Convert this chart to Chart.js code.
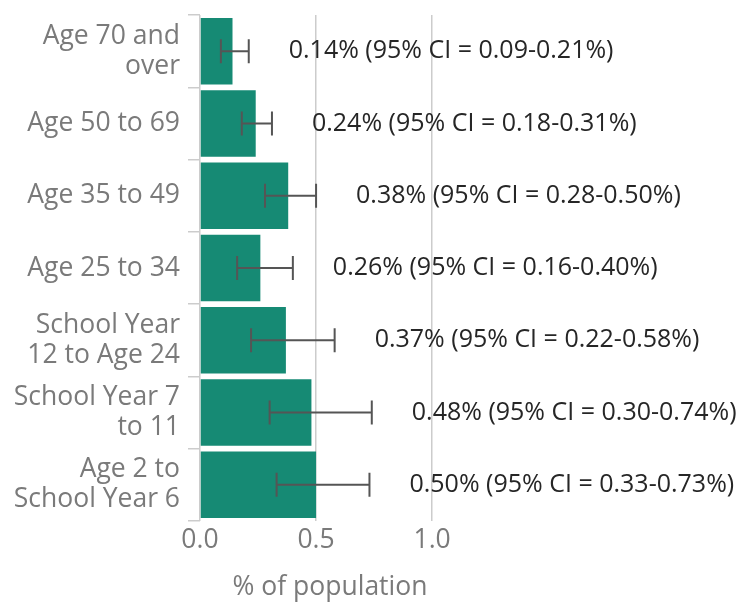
<!DOCTYPE html>
<html>
<head>
<meta charset="utf-8">
<script src="https://cdn.jsdelivr.net/npm/chart.js@4.4.0/dist/chart.umd.min.js"></script>
<style>
html,body{margin:0;padding:0;background:#fff;}
#wrap{width:746px;height:605px;position:relative;}
</style>
</head>
<body>
<div id="wrap"><canvas id="c" width="746" height="605"></canvas></div>
<script>
const categories = [
  ['Age 70 and', 'over'],
  'Age 50 to 69',
  'Age 35 to 49',
  'Age 25 to 34',
  ['School Year', '12 to Age 24'],
  ['School Year 7', 'to 11'],
  ['Age 2 to', 'School Year 6']
];
const values = [0.14, 0.24, 0.38, 0.26, 0.37, 0.48, 0.50];
const lowerCI = [0.09, 0.18, 0.28, 0.16, 0.22, 0.30, 0.33];
const upperCI = [0.21, 0.31, 0.50, 0.40, 0.58, 0.74, 0.73];
const xTicks = [0, 0.5, 1.0];
const xTitle = '% of population';

const fmt = v => v.toFixed(2);
const pointLabels = values.map((v, i) => fmt(v) + '% (95% CI = ' + fmt(lowerCI[i]) + '-' + fmt(upperCI[i]) + '%)');

const FONT = "'Open Sans', 'DejaVu Sans', sans-serif";

const errorBarPlugin = {
  id: 'errorBars',
  afterDatasetsDraw(chart) {
    const ctx = chart.ctx;
    const xs = chart.scales.x;
    const meta = chart.getDatasetMeta(0);
    ctx.save();
    ctx.strokeStyle = '#555555';
    ctx.lineWidth = 2;
    meta.data.forEach((bar, i) => {
      const y = bar.y;
      const x1 = xs.getPixelForValue(lowerCI[i]);
      const x2 = xs.getPixelForValue(upperCI[i]);
      const cap = 12;
      ctx.beginPath();
      ctx.moveTo(x1, y); ctx.lineTo(x2, y);
      ctx.moveTo(x1, y - cap); ctx.lineTo(x1, y + cap);
      ctx.moveTo(x2, y - cap); ctx.lineTo(x2, y + cap);
      ctx.stroke();
    });
    ctx.fillStyle = '#262626';
    ctx.font = "25px " + FONT;
    ctx.textAlign = 'left';
    ctx.textBaseline = 'middle';
    meta.data.forEach((bar, i) => {
      const x = xs.getPixelForValue(upperCI[i]) + 40;
      ctx.fillText(pointLabels[i], x, bar.y);
    });
    ctx.restore();
  }
};

new Chart(document.getElementById('c'), {
  type: 'bar',
  data: {
    labels: categories,
    datasets: [{
      data: values,
      backgroundColor: '#168a74',
      borderWidth: 0,
      barPercentage: 0.92,
      categoryPercentage: 1.0
    }]
  },
  options: {
    indexAxis: 'y',
    responsive: false,
    animation: false,
    devicePixelRatio: 1,
    layout: { padding: { top: 15, right: 286, left: 0, bottom: 0 } },
    plugins: { legend: { display: false }, tooltip: { enabled: false } },
    scales: {
      x: {
        min: 0,
        max: 1.12,
        afterFit: s => { s.height = 84; s.paddingLeft = 0; s.paddingRight = 0; },
        afterBuildTicks: s => { s.ticks = xTicks.map(v => ({ value: v })); },
        ticks: {
          includeBounds: false,
          padding: 4,
          color: '#7a7a7a',
          font: { family: FONT, size: 26.5 },
          callback: v => Number(v).toFixed(1)
        },
        grid: { color: '#cccccc', lineWidth: 1.5, drawTicks: false },
        border: { display: false },
        title: {
          display: true,
          text: xTitle,
          color: '#7a7a7a',
          font: { family: FONT, size: 26.5 },
          padding: { top: 0, bottom: 2 }
        }
      },
      y: {
        afterFit: s => { s.width = 200; s.paddingTop = 0; s.paddingBottom = 0; },
        ticks: {
          padding: 8,
          color: '#7a7a7a',
          font: { family: FONT, size: 26.5, lineHeight: 1.13 }
        },
        grid: { drawOnChartArea: false, drawTicks: true, tickLength: 12, color: '#cccccc', lineWidth: 1.5 },
        border: { display: false }
      }
    }
  },
  plugins: [errorBarPlugin]
});
</script>
</body>
</html>
